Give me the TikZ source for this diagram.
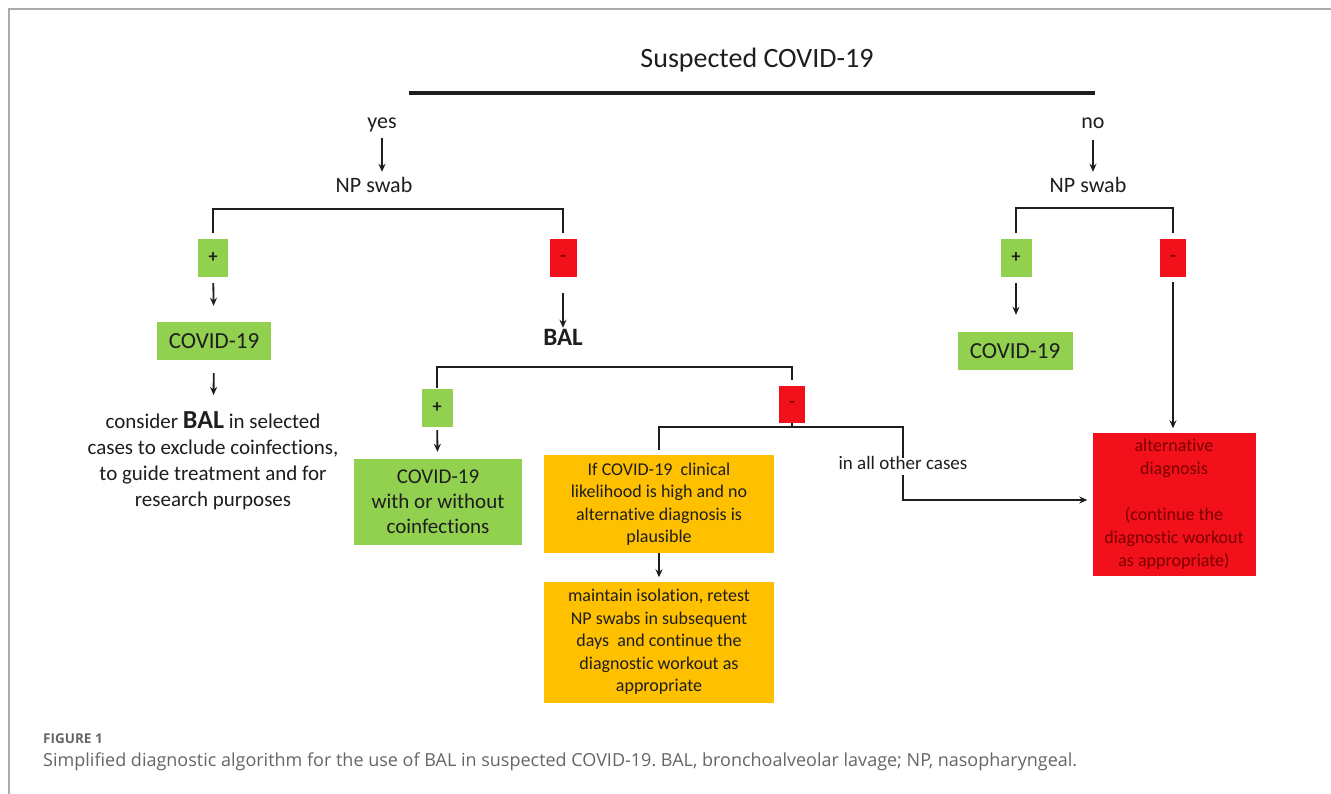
\documentclass[tikz,border=0pt]{standalone}
\usepackage{fontspec}
\setmainfont{Carlito}[Ligatures={NoCommon}]
\newfontfamily\capfont{Open Sans}[Ligatures={NoCommon}]
\usetikzlibrary{arrows.meta}
\definecolor{gr}{HTML}{92D050}
\definecolor{rd}{HTML}{F2111B}
\definecolor{og}{HTML}{FFC000}
\definecolor{txt}{HTML}{1E1E1E}
\definecolor{rtxt}{HTML}{7A0000}
\definecolor{framec}{HTML}{ABABAB}
\definecolor{capgray}{HTML}{666666}
\newcommand{\fsz}[2]{\fontsize{#1}{#2}\selectfont}
\frenchspacing
\begin{document}
\begin{tikzpicture}[x=1pt,y=-1pt,
  lbl/.style={inner sep=0pt, text height=0.7em, text depth=0.22em, text=txt},
  plusbox/.style={fill=gr, inner sep=0pt, minimum height=38pt, text=txt, font=\fsz{18}{20}\bfseries},
  minusbox/.style={fill=rd, inner sep=0pt, minimum height=38pt, text=rtxt, font=\fsz{18}{20}\bfseries},
  greenbox/.style={fill=gr, inner sep=0pt, text=txt, align=center},
  orangebox/.style={fill=og, inner sep=0pt, text=txt, align=center, font=\fsz{18}{22.5}},
  redbox/.style={fill=rd, inner sep=0pt, text=rtxt, align=center, font=\fsz{18}{23}},
  arr/.style={-{Stealth[length=8pt,width=7pt]}, line width=1.8pt, draw=txt},
  brk/.style={line width=2.2pt, draw=txt}
]
\useasboundingbox (0,0) rectangle (1331,794);
\fill[white] (0,0) rectangle (1331,794);
\draw[framec, line width=1.6pt] (9,794) -- (9,9) -- (1331,9);

% title
\node[lbl, font=\fsz{28}{32}, anchor=base] (title) at (757,68) {Suspected COVID-19};
\coordinate (tl) at (409,93);
\coordinate (tr) at (1095,93);
\draw[line width=3.3pt, txt] (tl) -- (tr);

% yes branch
\node[lbl, font=\fsz{22}{26}, anchor=base] (yes) at (382,129) {yes};
\node[lbl, font=\fsz{22}{26}, anchor=base] (np1) at (374,193) {NP swab};
\node[plusbox, minimum width=30pt] (p1) at (213,258) {+};
\node[minusbox, minimum width=27pt] (m1) at (563,258) {-};
\node[greenbox, minimum width=114pt, minimum height=38pt, font=\fsz{23}{26}] (c1) at (214,341) {COVID-19};
\node[lbl, font=\fsz{25}{28}\bfseries, anchor=base] (bal) at (563,345) {BAL};
\node[inner sep=0pt, anchor=north, align=center, text=txt, font=\fsz{21}{26}] (cons) at (213,411)
  {consider {\fsz{26}{26}\bfseries BAL} in selected\\cases to exclude coinfections,\\to guide treatment and for\\research purposes};

\draw[arr, shorten <=7pt, shorten >=14pt] (yes.south) -- (yes.south |- np1.north);
\draw[brk] ([yshift=6pt]p1.north) |- ([yshift=30pt]m1.north) -- ([yshift=6pt]m1.north);
\draw[arr, shorten <=6pt, shorten >=16pt] (p1) -- (c1);
\draw[arr, shorten <=16pt, shorten >=10pt] (m1.south) -- (m1.south |- bal.north);
\draw[arr, shorten <=13pt, shorten >=16pt] (c1) -- (cons);

% BAL branch
\node[plusbox, minimum width=31pt] (p2) at (437,408) {+};
\node[minusbox, minimum width=26pt, minimum height=37pt] (m2) at (792,404.5) {-};
\node[greenbox, minimum width=168pt, minimum height=86pt, font=\fsz{21}{25}] (c2) at (438,502)
  {COVID-19\\with or without\\coinfections};
\node[orangebox, minimum width=230pt, minimum height=98pt] (o1) at (659,504)
  {If COVID-19\ \ clinical\\likelihood is high and no\\alternative diagnosis is\\plausible};
\node[orangebox, minimum width=230pt, minimum height=121pt] (o2) at (659,642)
  {maintain isolation, retest\\NP swabs in subsequent\\days\ \ and continue the\\diagnostic workout as\\appropriate};
\node[lbl, font=\fsz{19}{23}, anchor=base] (oth) at (903,469) {in all other cases};

\draw[brk] ([yshift=1pt]p2.north) |- ([yshift=19pt]m2.north) -- ([yshift=6pt]m2.north);
\draw[arr, shorten <=3pt, shorten >=7pt] (p2) -- (c2);
\draw[brk] (m2.south) -- ([yshift=-4pt]m2.south);
\draw[brk] ([yshift=5pt]o1.north) |- ([yshift=-4pt]m2.south) -| ([yshift=4pt]oth.north);
\draw[arr, shorten >=4pt] (o1) -- (o2);

% no branch
\node[lbl, font=\fsz{22}{26}, anchor=base] (no) at (1093,129) {no};
\node[lbl, font=\fsz{22}{26}, anchor=base] (np2) at (1088,193) {NP swab};
\node[plusbox, minimum width=31pt] (p3) at (1016,258) {+};
\node[minusbox, minimum width=26pt] (m3) at (1173,258) {-};
\node[greenbox, minimum width=115pt, minimum height=38pt, font=\fsz{23}{26}] (c3) at (1015,351) {COVID-19};
\node[redbox, minimum width=163pt, minimum height=143pt] (alt) at (1174,504)
  {alternative\\diagnosis\\[23pt](continue the\\diagnostic workout\\as appropriate)};

\draw[arr, shorten <=9pt, shorten >=14pt] (no.south) -- (no.south |- np2.north);
\draw[brk] ([yshift=6pt]p3.north) |- ([yshift=31pt]m3.north) -- ([yshift=6pt]m3.north);
\draw[arr, shorten <=6pt, shorten >=17pt] (p3) -- (p3 |- c3.north);
\draw[arr, shorten <=5pt, shorten >=4pt] (m3) -- (m3 |- alt.north);
\draw[arr, shorten <=4pt, shorten >=5pt] (oth.south) |- ([yshift=4pt]alt.west);

% caption
\node[anchor=base west, inner sep=0pt, font=\capfont\bfseries\fsz{13.5}{15}, text=capgray] (fig) at (43,743) {FIGURE 1};
\node[anchor=base west, inner sep=0pt, font=\capfont\fsz{18}{21}, text=capgray] (cap) at (43,766)
  {Simplified diagnostic algorithm for the use of BAL in suspected COVID-19. BAL, bronchoalveolar lavage; NP, nasopharyngeal.};
\end{tikzpicture}
\end{document}
